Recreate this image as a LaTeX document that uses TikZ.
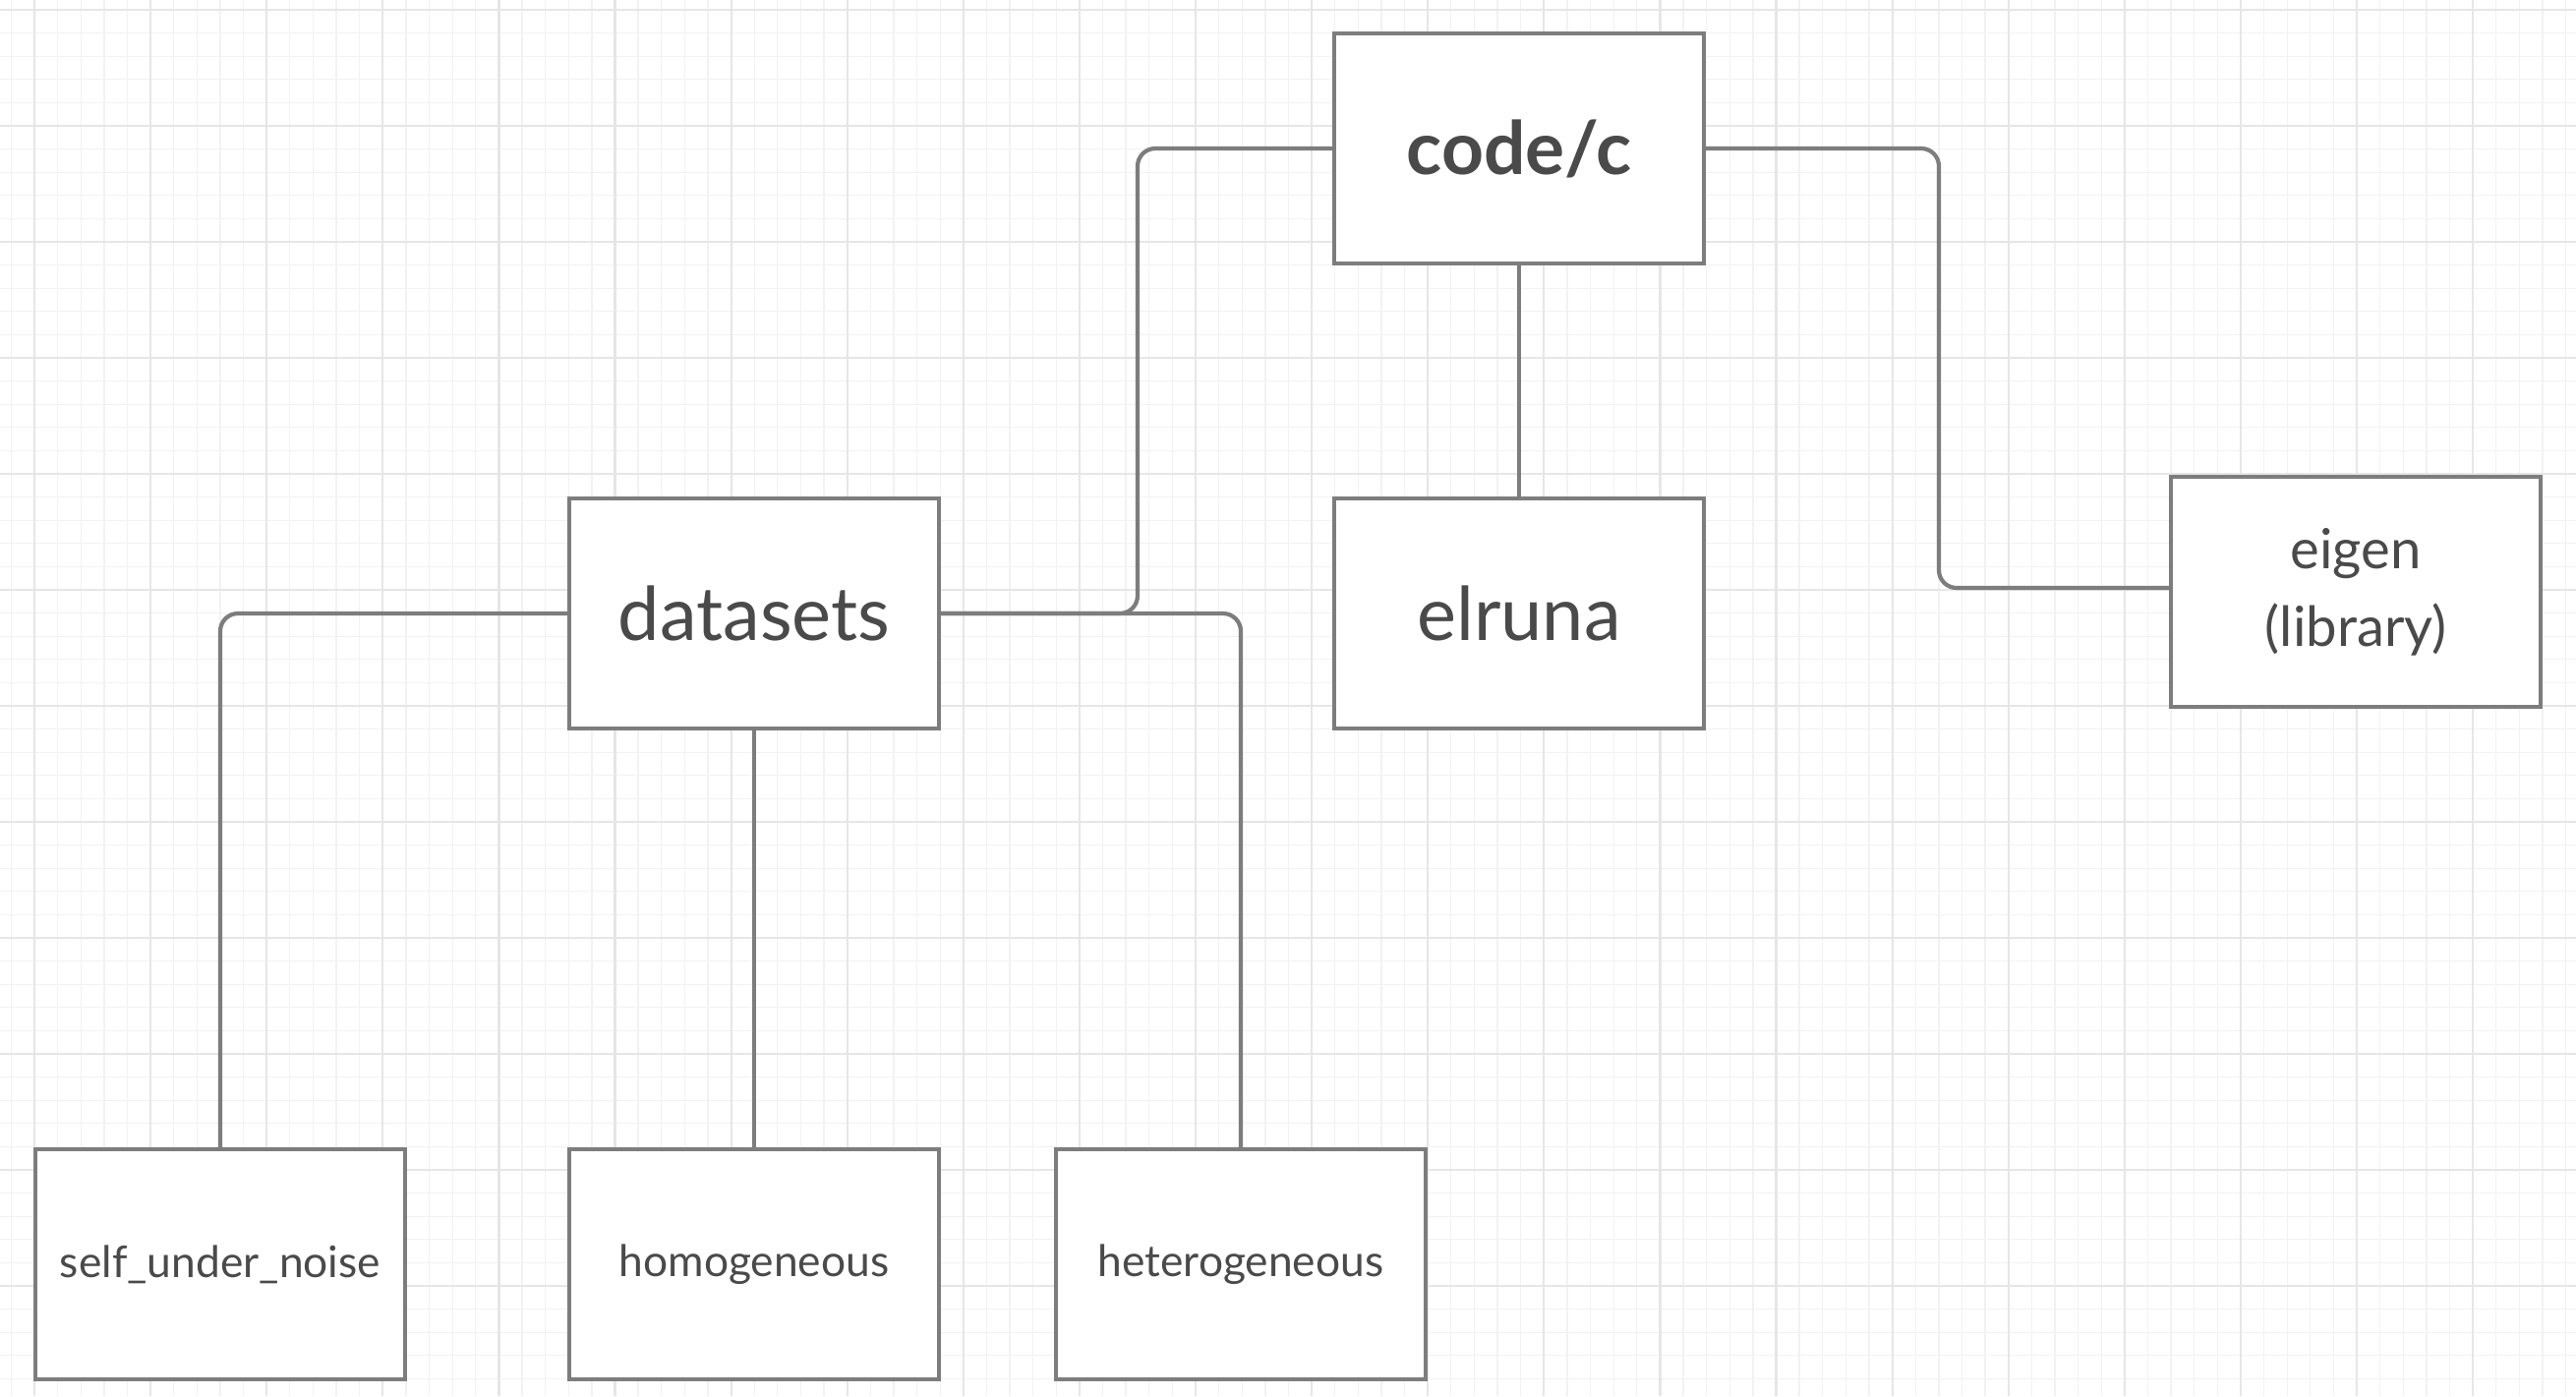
\documentclass[tikz,border=0pt]{standalone}
\usepackage{fontspec}
\setmainfont{Lato}
\definecolor{gridminor}{RGB}{242,242,242}
\definecolor{gridmajor}{RGB}{230,230,230}
\definecolor{edgecol}{RGB}{125,125,125}
\definecolor{txtcol}{RGB}{74,74,74}
\begin{document}
\begin{tikzpicture}[x=0.01cm,y=-0.01cm,
  box/.style={draw=edgecol,line width=0.042cm,fill=white,rectangle,
    minimum width=3.76cm,minimum height=2.34cm,inner sep=0pt,text=txtcol,align=center},
  big/.style={box,font=\fontsize{21.5}{25}\selectfont},
  mid/.style={box,font=\fontsize{16}{22.5}\selectfont},
  small/.style={box,font=\fontsize{12.6}{15}\selectfont},
  conn/.style={draw=edgecol,line width=0.042cm,rounded corners=0.18cm}]
\useasboundingbox (0,0) rectangle (2620,1420);
\fill[white] (0,0) rectangle (2620,1420);
% grid
\foreach \i in {-1,...,110}{
  \pgfmathsetmacro{\xx}{35+23.62*\i}
  \draw[gridminor,line width=0.013cm] (\xx,0) -- (\xx,1420);
}
\foreach \i in {0,...,60}{
  \pgfmathsetmacro{\yy}{10+23.6*\i}
  \draw[gridminor,line width=0.013cm] (0,\yy) -- (2620,\yy);
}
\foreach \i in {0,...,22}{
  \pgfmathsetmacro{\xx}{35+118.1*\i}
  \draw[gridmajor,line width=0.022cm] (\xx,0) -- (\xx,1420);
}
\foreach \i in {0,...,12}{
  \pgfmathsetmacro{\yy}{10+118*\i}
  \draw[gridmajor,line width=0.022cm] (0,\yy) -- (2620,\yy);
}
% nodes
\node[big,font=\fontsize{21.3}{25}\selectfont\bfseries] (codec) at (1545,151) {code/c};
\node[big] (datasets) at (767,624) {datasets};
\node[big] (elruna) at (1545,624) {elruna};
\node[mid] (eigen) at (2396,602) {eigen\\(library)};
\node[small] (sun) at (224,1286) {self\_under\_noise};
\node[small] (homo) at (767,1286) {homogeneous};
\node[small] (hetero) at (1262,1286) {heterogeneous};
% junction coordinates
\coordinate (jl) at (1157,624);
\coordinate (jr) at (1972,598);
% connectors
\draw[conn] (codec.west) -| (jl) -- (datasets.east);
\draw[conn] (codec.east) -| (jr) -- (jr -| eigen.west);
\draw[conn] (codec.south) -- (elruna.north);
\draw[conn] (datasets.west) -| (sun.north);
\draw[conn] (datasets.south) -- (homo.north);
\draw[conn] (datasets.east) -| (hetero.north);
\end{tikzpicture}
\end{document}
